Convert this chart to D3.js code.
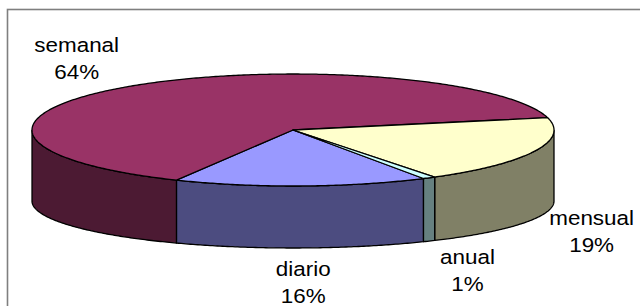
<!DOCTYPE html>
<html>
<head>
<meta charset="utf-8">
<script src="https://cdn.jsdelivr.net/npm/d3@7"></script>
<style>
  body { margin: 0; background: #fff; }
  svg { display: block; }
  .lbl { font-family: "Liberation Sans", Arial, sans-serif; font-size: 19.5px; fill: #000; }
</style>
</head>
<body>
<div id="chart"></div>
<script>
// data (order as in the sheet, drawn clockwise)
const categories = ["diario", "semanal", "mensual", "anual"];
const shares = [15.7, 64.1, 19.4, 0.8];
const pctLabels = ["16%", "64%", "19%", "1%"];

const W = 640, H = 306;

// pie geometry (3d ellipse, top face and bottom rim)
const cx = 293, rx = 261;
const topCy = 130, topRy = 56;
const botCy = 201, botRy = 47;

const topColor = d3.scaleOrdinal().domain(categories)
    .range(["#9999FF", "#993366", "#FFFFCC", "#CCFFFF"]);
const sideColor = d3.scaleOrdinal().domain(categories)
    .range(["#4C4C80", "#4C1A33", "#808066", "#668080"]);

const xs = d3.scaleLinear().domain([-1, 1]).range([cx - rx, cx + rx]);
const yTop = d3.scaleLinear().domain([-1, 1]).range([topCy + topRy, topCy - topRy]);
const yBot = d3.scaleLinear().domain([-1, 1]).range([botCy + botRy, botCy - botRy]);

const startA = 150 * Math.PI / 180;
const pie = d3.pie().sort(null).value(d => d)
    .startAngle(startA).endAngle(startA + 2 * Math.PI);
const arcs = pie(shares);

const svg = d3.select("#chart").append("svg")
    .attr("width", W).attr("height", H);

// chart area border (only left and top show)
const frameX = 7.5, frameY = 9.5;
svg.append("rect")
    .attr("x", frameX).attr("y", frameY)
    .attr("width", 800).attr("height", 500)
    .attr("fill", "#fff")
    .attr("stroke", "#7f7f7f").attr("stroke-width", 1.6);

const line = d3.line();

function samples(a0, a1) {
    const n = Math.max(2, Math.ceil((a1 - a0) / 0.01));
    return d3.range(n + 1).map(i => a0 + (a1 - a0) * i / n);
}

// outer walls, front half only
const walls = svg.append("g");
arcs.forEach((d, i) => {
    const pts = samples(d.startAngle, d.endAngle);
    let run = [];
    const flush = () => {
        if (run.length > 1) {
            const top = run.map(t => [xs(Math.sin(t)), yTop(Math.cos(t))]);
            const bot = run.slice().reverse().map(t => [xs(Math.sin(t)), yBot(Math.cos(t))]);
            walls.append("path")
                .attr("d", line(top.concat(bot)) + "Z")
                .attr("fill", sideColor(categories[i]))
                .attr("stroke", "#000").attr("stroke-width", 1.3)
                .attr("stroke-linejoin", "round");
        }
        run = [];
    };
    pts.forEach(t => {
        if (Math.cos(t) <= 1e-9) run.push(t); else flush();
    });
    flush();
});

// top faces
const tops = svg.append("g");
arcs.forEach((d, i) => {
    const pts = samples(d.startAngle, d.endAngle)
        .map(t => [xs(Math.sin(t)), yTop(Math.cos(t))]);
    pts.unshift([xs(0), yTop(0)]);
    tops.append("path")
        .attr("d", line(pts) + "Z")
        .attr("fill", topColor(categories[i]))
        .attr("stroke", "#000").attr("stroke-width", 1.3)
        .attr("stroke-linejoin", "round");
});

// data labels: box sits just outside the rim at the slice's mid angle,
// kept inside the chart area like excel does
const labels = svg.append("g");
arcs.forEach((d, i) => {
    const m = (d.startAngle + d.endAngle) / 2;
    const s = Math.sin(m), c = Math.cos(m);
    const k = 1.08;
    const px = cx + rx * k * s;
    const py = c > 0 ? topCy - topRy * k * c : botCy - botRy * k * c;
    const g = labels.append("g");
    const t = g.append("text").attr("class", "lbl")
        .attr("text-anchor", "middle");
    t.append("tspan").attr("x", 0).attr("dy", 0).text(categories[i]);
    t.append("tspan").attr("x", 0).attr("dy", 27).text(pctLabels[i]);
    const bb = t.node().getBBox();
    const sx = 1.15;
    const w = bb.width * sx, h = bb.height;
    let ox = px + Math.max(-1, Math.min(1, 2 * s)) * w / 2;
    ox = Math.max(frameX + 4 + w / 2, Math.min(W - 6 - w / 2, ox));
    const oy = py - c * h / 2 - 6 * c;
    g.attr("transform",
        `translate(${ox},${oy - (bb.y + bb.height / 2)}) scale(${sx},1)`);
});
</script>
</body>
</html>
